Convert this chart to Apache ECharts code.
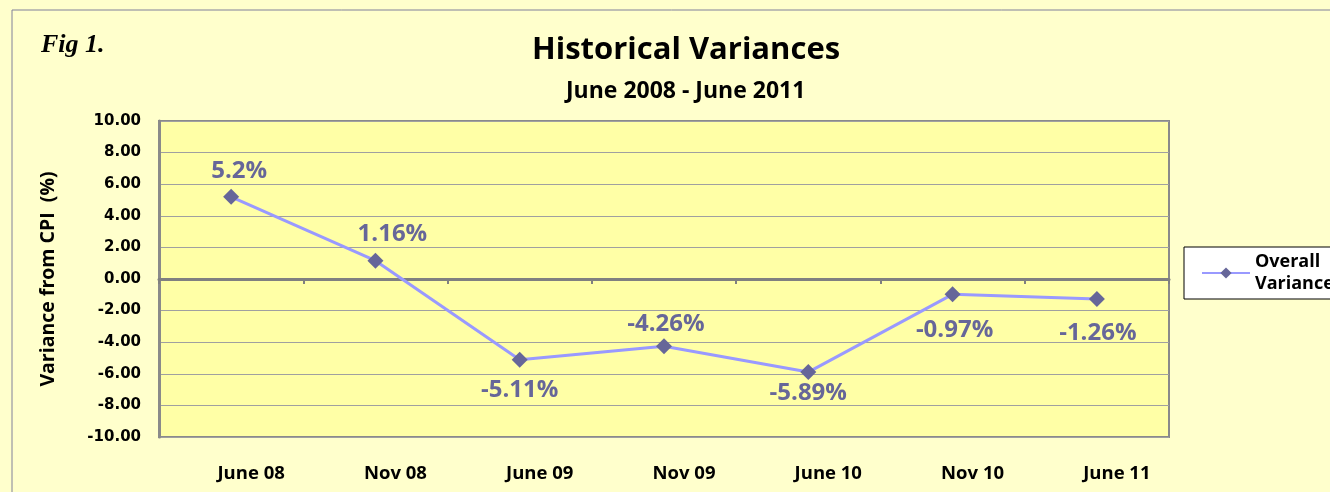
<!DOCTYPE html>
<html>
<head>
<meta charset="utf-8">
<script src="https://cdn.jsdelivr.net/npm/echarts@6/dist/echarts.min.js"></script>
<style>
  html, body { margin: 0; padding: 0; background: #FFFFCC; }
  #main { width: 1330px; height: 492px; }
</style>
</head>
<body>
<div id="main"></div>
<script>
// chart data
var periods = ['June 08', 'Nov 08', 'June 09', 'Nov 09', 'June 10', 'Nov 10', 'June 11'];
var variances = [5.2, 1.16, -5.11, -4.26, -5.89, -0.97, -1.26];
var labelTexts = ['5.2%', '1.16%', '-5.11%', '-4.26%', '-5.89%', '-0.97%', '-1.26%'];
var labelSides = ['top', 'top', 'bottom', 'top', 'bottom', 'bottom', 'bottom'];

//数据标签的微调偏移（样式）
var labelNudges = [[8, 2], [17, 1], [0, 2], [2, 6], [0, -7], [2, 8], [1, 6]];

var font = '"Open Sans", sans-serif';
var numFont = '"DejaVu Sans", sans-serif';

var chartDom = document.getElementById('main');
var myChart = echarts.init(chartDom);

var pointData = [];
for (let i = 0; i < variances.length; i++) {
  pointData.push({
    value: variances[i],
    label: { position: labelSides[i], formatter: labelTexts[i], offset: labelNudges[i] }
  });
}

var option = {
  backgroundColor: '#FFFFCC',
  textStyle: { fontFamily: font },
  title: [
    {
      text: 'Historical Variances',
      left: 527,
      top: 30,
      textStyle: { fontSize: 31, fontWeight: 'bold', color: '#000', fontFamily: font }
    },
    {
      text: 'June 2008 - June 2011',
      left: 561,
      top: 75,
      textStyle: { fontSize: 23, fontWeight: 'bold', color: '#000', fontFamily: font }
    },
    {
      text: 'Fig 1.',
      left: 36,
      top: 27,
      textStyle: { fontSize: 26, fontWeight: 'bold', fontStyle: 'italic', color: '#000', fontFamily: '"Liberation Serif", serif' }
    }
  ],
  //外框
  graphic: [
    {
      type: 'rect',
      shape: { x: 12, y: 10, width: 1330, height: 500 },
      style: { fill: 'none', stroke: '#80809a', lineWidth: 1 }
    }
  ],
  legend: {
    left: 1184,
    top: 247,
    backgroundColor: '#fff',
    borderColor: '#000',
    borderWidth: 1,
    padding: [4, 12, 4, 17],
    itemWidth: 48,
    itemHeight: 14,
    itemGap: 0,
    textStyle: { fontSize: 18, fontWeight: 'bold', color: '#000', fontFamily: font, lineHeight: 22 },
    data: [{ name: 'Overall\nVariance' }]
  },
  grid: {
    left: 159,
    top: 121,
    right: 161,
    bottom: 55,
    show: true,
    backgroundColor: '#FFFFA6',
    borderColor: '#8a8a8a',
    borderWidth: 2
  },
  xAxis: [
    {
      type: 'category',
      data: periods,
      boundaryGap: true,
      axisLine: { onZero: true, lineStyle: { color: '#808080', width: 3 } },
      axisTick: { show: true, length: 5, interval: 0, lineStyle: { color: '#808080', width: 2 } },
      axisLabel: { show: false },
      splitLine: { show: false }
    },
    {
      type: 'category',
      data: periods,
      position: 'bottom',
      boundaryGap: true,
      axisLine: { show: false, onZero: false },
      axisTick: { show: false },
      axisLabel: { margin: 27, fontSize: 18.5, fontWeight: 'bold', color: '#000', fontFamily: font, interval: 0, padding: [0, 0, 0, 40] },
      splitLine: { show: false }
    }
  ],
  yAxis: {
    type: 'value',
    min: -10,
    max: 10,
    interval: 2,
    name: 'Variance from CPI  (%)',
    nameLocation: 'middle',
    nameGap: 101,
    nameTextStyle: { fontSize: 19.5, fontWeight: 'bold', color: '#000', fontFamily: font },
    axisLine: { show: true, lineStyle: { color: '#8a8a8a', width: 3 } },
    axisTick: { show: false },
    axisLabel: {
      margin: 18,
      fontSize: 15,
      fontWeight: 'bold',
      color: '#000',
      fontFamily: numFont,
      formatter: function (v) { return v.toFixed(2); }
    },
    splitLine: { show: true, lineStyle: { color: '#a0a0a0', width: 1 } }
  },
  series: [
    {
      name: 'Overall\nVariance',
      type: 'line',
      data: pointData,
      symbol: 'diamond',
      symbolSize: 16,
      lineStyle: { color: '#9999FF', width: 3 },
      itemStyle: { color: '#666699' },
      label: {
        show: true,
        distance: 8,
        fontSize: 24,
        fontWeight: 'bold',
        color: '#666699',
        fontFamily: font
      },
      animation: false
    }
  ]
};
option && myChart.setOption(option);
</script>
</body>
</html>
